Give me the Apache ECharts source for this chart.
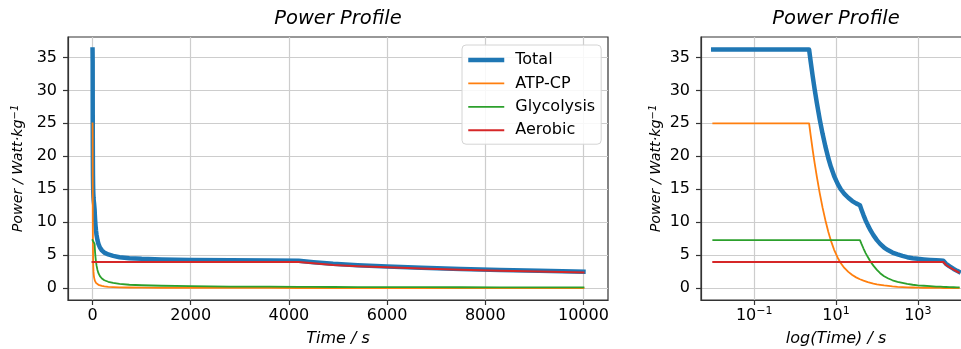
<!DOCTYPE html>
<html>
<head>
<meta charset="utf-8">
<script src="https://cdn.jsdelivr.net/npm/echarts@6/dist/echarts.min.js"></script>
<style>
  html, body { margin: 0; padding: 0; background: #ffffff; }
  #chart { width: 961px; height: 349px; }
</style>
</head>
<body>
<div id="chart"></div>
<script>
// Time samples (s) shared by every energy-system curve
const timeSec = [0.01, 2.2, 2.4, 2.7, 3, 3.4, 4, 4.7, 5.5, 6.5, 7.5, 9, 11, 13, 16, 20, 25, 31, 38.5,
  42, 47, 53, 60, 70, 82, 100, 120, 150, 190, 240, 320, 420, 550, 750, 1000, 1400, 2000, 2800,
  3600, 4200, 4500, 4900, 5400, 6000, 6700, 7500, 8300, 9100, 10000];

// Power (W/kg) of each system
const totalPower = [36.2, 36.2, 34.4, 32.1, 30.2, 28.1, 25.6, 23.4, 21.5, 19.7, 18.4, 17.0, 15.8, 15.0, 14.3, 13.7, 13.2, 12.85, 12.56,
  11.9, 11.07, 10.26, 9.55, 8.74, 8.03, 7.27, 6.7, 6.15, 5.72, 5.38, 5.1, 4.88, 4.68, 4.53, 4.43, 4.34, 4.26, 4.2,
  4.17, 4.14, 3.93, 3.67, 3.46, 3.28, 3.09, 2.9, 2.74, 2.61, 2.48];
const atpcpPower = [25, 25, 23.2, 20.9, 19.0, 16.9, 14.4, 12.2, 10.3, 8.5, 7.2, 5.8, 4.6, 3.8, 3.05, 2.45, 1.98, 1.62, 1.33,
  1.24, 1.12, 1.01, 0.9, 0.79, 0.68, 0.57, 0.49, 0.4, 0.32, 0.25, 0.19, 0.15, 0.11, 0.08, 0.06, 0.04, 0.03, 0.02,
  0.015, 0.01, 0.01, 0.01, 0.01, 0.005, 0.005, 0, 0, 0, 0];
const glycolysisPower = [7.28, 7.28, 7.28, 7.28, 7.28, 7.28, 7.28, 7.28, 7.28, 7.28, 7.28, 7.28, 7.28, 7.28, 7.28, 7.28, 7.28, 7.28, 7.28,
  6.7, 6.0, 5.3, 4.7, 4.0, 3.4, 2.75, 2.25, 1.8, 1.45, 1.18, 0.95, 0.78, 0.62, 0.5, 0.42, 0.35, 0.28, 0.23,
  0.2, 0.18, 0.17, 0.16, 0.15, 0.14, 0.13, 0.12, 0.11, 0.1, 0.1];
const aerobicPower = [3.95, 3.95, 3.95, 3.95, 3.95, 3.95, 3.95, 3.95, 3.95, 3.95, 3.95, 3.95, 3.95, 3.95, 3.95, 3.95, 3.95, 3.95, 3.95,
  3.95, 3.95, 3.95, 3.95, 3.95, 3.95, 3.95, 3.95, 3.95, 3.95, 3.95, 3.95, 3.95, 3.95, 3.95, 3.95, 3.95, 3.95, 3.95,
  3.95, 3.95, 3.75, 3.5, 3.3, 3.14, 2.96, 2.78, 2.63, 2.51, 2.38];

// Tick labels
const timeTicks = [0, 2000, 4000, 6000, 8000, 10000];
const logTimeExponents = [-1, 1, 3];
const powerTicks = [0, 5, 10, 15, 20, 25, 30, 35];
const seriesNames = ['Total', 'ATP-CP', 'Glycolysis', 'Aerobic'];

const FONT = '"DejaVu Sans", "Liberation Sans", sans-serif';
const INK = '#000000';
const SPINE = '#333333';
const GRID = '#cdcdcd';

const curves = [
  { name: 'Total', values: totalPower, color: '#1f77b4', width: 4.5 },
  { name: 'ATP-CP', values: atpcpPower, color: '#ff7f0e', width: 1.8 },
  { name: 'Glycolysis', values: glycolysisPower, color: '#2ca02c', width: 1.8 },
  { name: 'Aerobic', values: aerobicPower, color: '#d62728', width: 2 }
];

function superscript(n) {
  return n < 0 ? '\u2212' + (-n) : String(n);
}

function yAxisFor(gridIndex) {
  return {
    type: 'value', gridIndex: gridIndex,
    min: -1.815, max: 38.1,
    name: 'Power / Watt\u00b7kg{sup|\u22121}',
    nameLocation: 'middle', nameGap: 36,
    nameTextStyle: {
      fontFamily: FONT, fontStyle: 'italic', fontSize: 14.3, color: INK,
      rich: { sup: { fontFamily: FONT, fontSize: 10, color: INK, padding: [0, 0, 7, 0] } }
    },
    axisLine: { show: true, onZero: false, lineStyle: { color: SPINE, width: 1.2 } },
    axisTick: { show: true, customValues: powerTicks, length: 5, lineStyle: { color: SPINE, width: 1.2 } },
    axisLabel: { customValues: powerTicks, fontFamily: FONT, fontSize: 16, color: INK, margin: 11,
      formatter: v => String(v) },
    splitLine: { show: true, lineStyle: { color: GRID, width: 1.2 } }
  };
}

const series = [];
curves.forEach(c => {
  series.push({
    name: c.name, type: 'line', xAxisIndex: 0, yAxisIndex: 0,
    data: timeSec.map((t, i) => [t, c.values[i]]),
    symbol: 'none', silent: true,
    lineStyle: { color: c.color, width: c.width, cap: 'square', join: 'round' },
    itemStyle: { color: c.color }
  });
});
curves.forEach(c => {
  series.push({
    name: c.name, type: 'line', xAxisIndex: 1, yAxisIndex: 1,
    data: timeSec.map((t, i) => [Math.log10(t), c.values[i]]),
    symbol: 'none', silent: true,
    lineStyle: { color: c.color, width: c.width, cap: 'square', join: 'round' },
    itemStyle: { color: c.color }
  });
});

const chart = echarts.init(document.getElementById('chart'), null, { renderer: 'canvas' });
chart.setOption({
  animation: false,
  backgroundColor: '#ffffff',
  grid: [
    { left: 68, top: 37, width: 540, height: 263, show: true, borderColor: SPINE, borderWidth: 1.2,
      backgroundColor: 'transparent', containLabel: false, outerBoundsMode: 'none' },
    { left: 701, top: 37, width: 270, height: 263, show: true, borderColor: SPINE, borderWidth: 1.2,
      backgroundColor: 'transparent', containLabel: false, outerBoundsMode: 'none' }
  ],
  xAxis: [
    {
      type: 'value', gridIndex: 0, min: -500, max: 10500,
      name: 'Time / s', nameLocation: 'middle', nameGap: 31,
      nameTextStyle: { fontFamily: FONT, fontStyle: 'italic', fontSize: 16, color: INK },
      axisLine: { show: true, onZero: false, lineStyle: { color: SPINE, width: 1.2 } },
      axisTick: { show: true, customValues: timeTicks, length: 5, lineStyle: { color: SPINE, width: 1.2 } },
      axisLabel: { customValues: timeTicks, fontFamily: FONT, fontSize: 16, color: INK, margin: 8,
        formatter: v => String(v) },
      splitLine: { show: true, lineStyle: { color: GRID, width: 1.2 } }
    },
    {
      type: 'value', gridIndex: 1, min: -2.3, max: 4.3,
      name: 'log(Time) / s', nameLocation: 'middle', nameGap: 31,
      nameTextStyle: { fontFamily: FONT, fontStyle: 'italic', fontSize: 16, color: INK },
      axisLine: { show: true, onZero: false, lineStyle: { color: SPINE, width: 1.2 } },
      axisTick: { show: true, customValues: logTimeExponents, length: 5, lineStyle: { color: SPINE, width: 1.2 } },
      axisLabel: {
        customValues: logTimeExponents, fontFamily: FONT, fontSize: 16, color: INK, margin: 6,
        formatter: v => '10{sup|' + superscript(v) + '}',
        rich: { sup: { fontFamily: FONT, fontSize: 11, color: INK, padding: [0, 0, 8, 0] } }
      },
      splitLine: { show: true, lineStyle: { color: GRID, width: 1.2 } }
    }
  ],
  yAxis: [yAxisFor(0), yAxisFor(1)],
  legend: {
    data: seriesNames,
    orient: 'vertical', left: 462, top: 45,
    itemWidth: 36, itemHeight: 14, itemGap: 7.4,
    padding: [7, 6, 6, 4],
    backgroundColor: 'rgba(255,255,255,0.85)',
    borderColor: '#d4d4d4', borderWidth: 1, borderRadius: 4,
    selectedMode: false,
    itemStyle: { opacity: 0 },
    lineStyle: { width: 'inherit', cap: 'butt' },
    textStyle: { fontFamily: FONT, fontSize: 16, color: INK, padding: [0, 0, 0, 6] }
  },
  graphic: [
    { type: 'text', x: 338, y: 19, silent: true,
      style: { text: 'Power Profile', font: 'italic 19.5px "DejaVu Sans"', fill: INK,
        align: 'center', verticalAlign: 'middle', textAlign: 'center', textVerticalAlign: 'middle' } },
    { type: 'text', x: 836, y: 19, silent: true,
      style: { text: 'Power Profile', font: 'italic 19.5px "DejaVu Sans"', fill: INK,
        align: 'center', verticalAlign: 'middle', textAlign: 'center', textVerticalAlign: 'middle' } }
  ],
  series: series
});
</script>
</body>
</html>
